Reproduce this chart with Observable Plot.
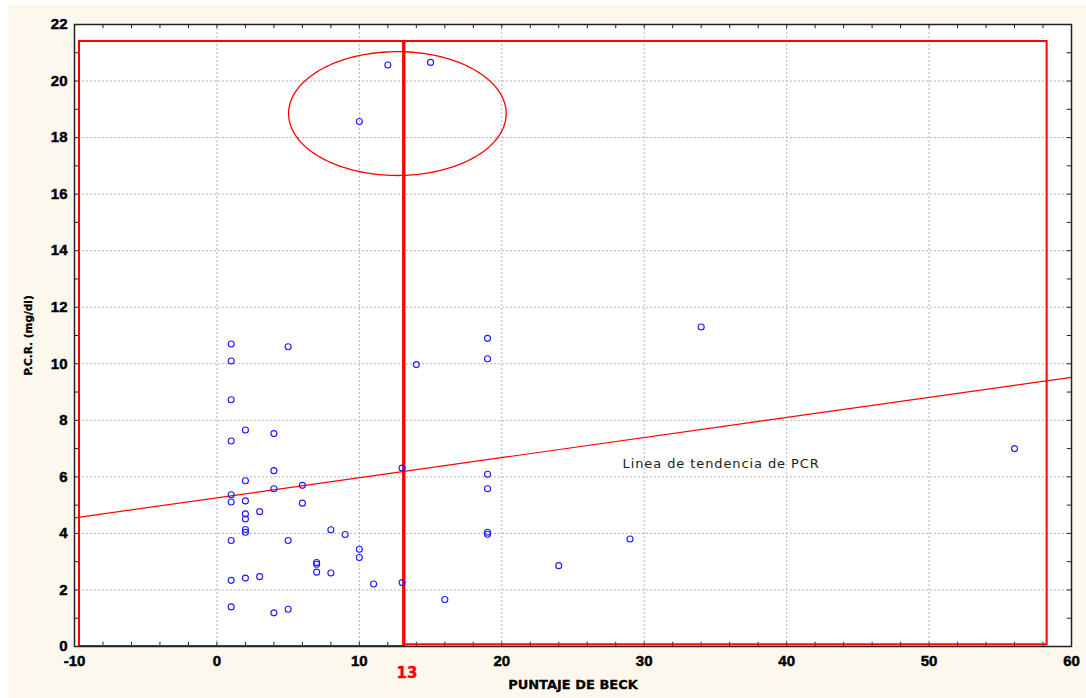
<!DOCTYPE html>
<html>
<head>
<meta charset="utf-8">
<script src="https://cdn.jsdelivr.net/npm/d3@7"></script>
<script src="https://cdn.jsdelivr.net/npm/@observablehq/plot@0.6"></script>
<style>
  html, body { margin: 0; padding: 0; background: #ffffff; }
  #panel { position: absolute; left: 8px; top: 5px; width: 1078px; height: 693px; background: #fcf8ee; }
  #panel svg { display: block; }
  #panel svg [aria-label$="tick label"] text {
    font-family: 'Liberation Sans', Arial, sans-serif;
    font-weight: 700;
    font-size: 15px;
    fill: #000;
    stroke: #000;
    stroke-width: 0.45px;
  }
</style>
</head>
<body>
<div id="panel"></div>
<script>
// ---- Data ----
const beck = [1, 5, 1, 14, 1, 2, 4, 1, 4, 2, 13, 6, 4, 1, 1, 2, 6, 3, 2, 2, 2, 2, 8, 9, 1, 5, 10, 10, 7, 7, 7, 8, 11, 13, 1, 2, 3, 1, 4, 5,
              19, 19, 19, 19, 19, 19, 24, 16, 12, 15, 10, 34, 56, 29];
const pcr  = [10.7, 10.6, 10.1, 9.97, 8.73, 7.66, 7.53, 7.27, 6.22, 5.86, 6.31, 5.70, 5.58, 5.37, 5.11, 5.15, 5.07, 4.77, 4.69, 4.51,
              4.14, 4.04, 4.13, 3.96, 3.75, 3.75, 3.44, 3.15, 2.97, 2.91, 2.63, 2.60, 2.21, 2.26, 2.34, 2.42, 2.47, 1.40, 1.19, 1.32,
              10.9, 10.18, 6.09, 5.58, 4.04, 3.97, 2.86, 1.66, 20.57, 20.66, 18.57, 11.3, 7.0, 3.8];

const xTicks = [-10, 0, 10, 20, 30, 40, 50, 60];
const yTicks = [0, 2, 4, 6, 8, 10, 12, 14, 16, 18, 20, 22];
const xMinorTicks = d3.range(-10, 61, 2);
const yMinorTicks = d3.range(0, 23, 1);

// trend line (end points)
const trendX = [-10, 60];
const trendY = [4.55, 9.52];
const trendLabel = ["Linea de tendencia de PCR"];
const trendLabelPos = [28.48, 6.46];

// cut-off and highlighted regions
const cutoff = [13.13];
const cutoffLabel = ["13"];
const regionX1 = [-9.65, 13.13];
const regionX2 = [13.13, 58.29];
const regionY1 = [0, 0.06];
const regionY2 = [21.4, 21.4];

// highlighted ellipse (center, radii in data units)
const ellipseCenter = [12.67, 18.85];
const ellipseRadii = [7.64, 2.19];

const xLabel = "PUNTAJE DE BECK";
const yLabel = "P.C.R. (mg/dl)";

// ---- Tables built from the arrays ----
const points = beck.map((b, i) => ({beck: b, pcr: pcr[i]}));
const trend = trendX.map((x, i) => ({x, y: trendY[i]}));
const regions = regionX1.map((x1, i) => ({x1, x2: regionX2[i], y1: regionY1[i], y2: regionY2[i]}));
const ellipse = d3.range(0, 361, 2).map(a => ({
  x: ellipseCenter[0] + ellipseRadii[0] * Math.cos(a * Math.PI / 180),
  y: ellipseCenter[1] + ellipseRadii[1] * Math.sin(a * Math.PI / 180)
}));
const annotations = [{x: trendLabelPos[0], y: trendLabelPos[1], text: trendLabel[0]}];
const yLabelRows = [{x: -10, y: 11, text: yLabel}];

const tickFont = {fontSize: 15, fontWeight: "bold", fill: "#000", tickFormat: d => String(d)};

const chart = Plot.plot({
  width: 1078,
  height: 693,
  marginLeft: 66,
  marginRight: 15,
  marginTop: 19,
  marginBottom: 52,
  style: {background: "transparent", fontFamily: "'DejaVu Sans', sans-serif", overflow: "visible"},
  x: {domain: [-10, 60]},
  y: {domain: [0, 22]},
  marks: [
    Plot.frame({fill: "white"}),
    Plot.gridX(xTicks, {stroke: "#b5b5b5", strokeOpacity: 1, strokeDasharray: "2,2"}),
    Plot.gridY(yTicks, {stroke: "#b5b5b5", strokeOpacity: 1, strokeDasharray: "2,2"}),
    // inward minor/major ticks on all sides
    Plot.ruleX(xMinorTicks, {y1: 0, y2: 0.15, stroke: "#222"}),
    Plot.ruleX(xMinorTicks, {y1: 21.85, y2: 22, stroke: "#222"}),
    Plot.ruleY(yMinorTicks, {x1: -10, x2: -9.7, stroke: "#222"}),
    Plot.ruleY(yMinorTicks, {x1: 59.7, x2: 60, stroke: "#222"}),
    // regions
    Plot.rect(regions, {x1: "x1", x2: "x2", y1: "y1", y2: "y2", fill: "none", stroke: "#ff0000", strokeWidth: 2}),
    Plot.ruleX(cutoff, {y1: 0, y2: regionY2[0], stroke: "#ff0000", strokeWidth: 3}),
    Plot.line(ellipse, {x: "x", y: "y", stroke: "#ff0000", strokeWidth: 1.3}),
    Plot.line(trend, {x: "x", y: "y", stroke: "#ff0000", strokeWidth: 1.2}),
    Plot.dot(points, {x: "beck", y: "pcr", r: 3, stroke: "#1a1aff", strokeWidth: 1.1, fill: "none"}),
    Plot.text(annotations, {x: "x", y: "y", text: "text", textAnchor: "start", fontSize: 13, fill: "#222"}),
    // axes
    Plot.axisX(xTicks, {tickSize: 0, tickPadding: 9, label: null, ...tickFont}),
    Plot.axisY(yTicks, {tickSize: 0, tickPadding: 7, label: null, ...tickFont}),
    Plot.text(cutoffLabel, {x: cutoff, frameAnchor: "bottom", dy: 31, dx: 3, fill: "#ff0000", stroke: "#ff0000", strokeWidth: 0.4, fontSize: 15, fontWeight: "bold"}),
    Plot.text([xLabel], {frameAnchor: "bottom", dy: 42, fontSize: 13, fontWeight: "bold", fill: "#000", stroke: "#000", strokeWidth: 0.3}),
    Plot.text(yLabelRows, {x: "x", y: "y", text: "text", dx: -45.5, rotate: -90, fontSize: 10.5, fontWeight: "bold", fill: "#000", stroke: "#000", strokeWidth: 0.3}),
    Plot.frame({stroke: "#222", strokeWidth: 1.5})
  ]
});

const svg = d3.select(chart);
svg.selectAll("text")
  .filter(function() { return this.textContent === trendLabel[0]; })
  .attr("letter-spacing", "0.9px");

document.getElementById("panel").appendChild(chart);
</script>
</body>
</html>
